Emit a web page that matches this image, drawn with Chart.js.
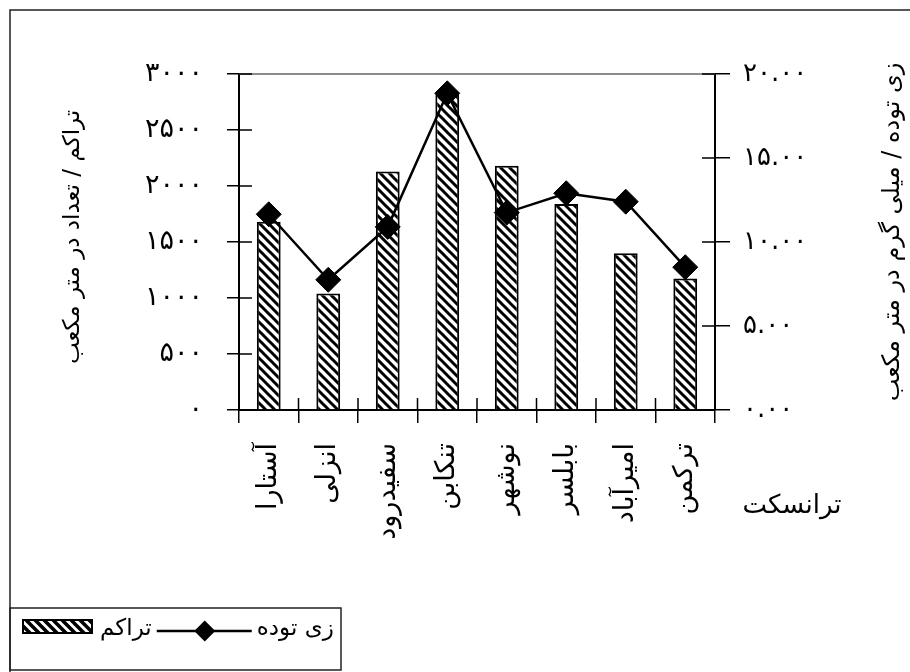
<!DOCTYPE html>
<html lang="fa">
<head>
<meta charset="utf-8">
<script src="https://cdn.jsdelivr.net/npm/chart.js@4.4.1/dist/chart.umd.min.js"></script>
<style>
  html, body { margin: 0; padding: 0; background: #fff; }
  #c { display: block; }
</style>
</head>
<body>
<canvas id="c" width="910" height="672"></canvas>
<script>
// Stations along the coast (transects)
const categories = ['آستارا', 'انزلی', 'سفیدرود', 'تنکابن', 'نوشهر', 'بابلسر', 'امیرآباد', 'ترکمن'];
// Density (individuals per cubic metre) – bars, left axis
const density = [1680, 1040, 2130, 2820, 2180, 1840, 1400, 1175];
// Biomass (mg per cubic metre) – line, right axis
const biomass = [11.65, 7.75, 10.9, 18.85, 11.75, 12.9, 12.4, 8.5];
// Axis ticks
const densityTicks = [0, 500, 1000, 1500, 2000, 2500, 3000];
const biomassTicks = [0, 5, 10, 15, 20];
// Texts
const seriesNames = ['تراکم', 'زی توده'];
const leftTitle = 'تراکم / تعداد در متر مکعب';
const rightTitle = 'زی توده / میلی گرم در متر مکعب';
const xTitle = 'ترانسکت';

const FONT = "'DejaVu Sans', sans-serif";
const FA_DIGITS = '۰۱۲۳۴۵۶۷۸۹';
const toFa = s => String(s).replace(/[0-9]/g, d => FA_DIGITS[+d]);

// Diagonal hatch fill for the bars
function makeHatch(size, width) {
  const c = document.createElement('canvas');
  c.width = size; c.height = size;
  const g = c.getContext('2d');
  g.fillStyle = '#fff';
  g.fillRect(0, 0, size, size);
  g.strokeStyle = '#000';
  g.lineWidth = width;
  g.lineCap = 'square';
  for (let k = -1; k <= 1; k++) {
    g.beginPath();
    g.moveTo(0, k * size);
    g.lineTo(size, size + k * size);
    g.stroke();
  }
  return g.createPattern(c, 'repeat');
}
const ctx0 = document.getElementById('c').getContext('2d');
const hatch = makeHatch(9, 3);

// Frame, plot top border, cross ticks inside the plot, titles and legend
const decor = {
  id: 'decor',
  beforeDatasetsDraw(chart) {
    const { ctx, chartArea: a, scales } = chart;
    ctx.save();
    // grey top edge of plot
    ctx.strokeStyle = '#8c8c8c';
    ctx.lineWidth = 2;
    ctx.beginPath();
    ctx.moveTo(a.left, a.top);
    ctx.lineTo(a.right, a.top);
    ctx.stroke();
    // inner halves of the tick marks
    ctx.strokeStyle = '#000';
    ctx.lineWidth = 1.5;
    ctx.beginPath();
    scales.y.ticks.forEach((t, i) => {
      const p = scales.y.getPixelForTick(i);
      ctx.moveTo(a.left, p); ctx.lineTo(a.left + 13, p);
    });
    scales.y1.ticks.forEach((t, i) => {
      const p = scales.y1.getPixelForTick(i);
      ctx.moveTo(a.right, p); ctx.lineTo(a.right - 13, p);
    });
    const n = scales.x.ticks.length;
    for (let i = 0; i <= n; i++) {
      const p = scales.x.getPixelForValue(i - 0.5);
      ctx.moveTo(p, a.bottom); ctx.lineTo(p, a.bottom - 12);
    }
    ctx.stroke();
    ctx.restore();
  },
  afterDraw(chart) {
    const { ctx } = chart;
    ctx.save();
    // outer frame (top and left edges)
    ctx.strokeStyle = '#222';
    ctx.lineWidth = 1.5;
    ctx.beginPath();
    ctx.moveTo(10, 672); ctx.lineTo(10, 10); ctx.lineTo(910, 10);
    ctx.stroke();

    ctx.fillStyle = '#000';
    ctx.textAlign = 'center';
    ctx.textBaseline = 'middle';
    // left axis title
    ctx.font = '23px ' + FONT;
    ctx.save();
    ctx.translate(73, 237);
    ctx.rotate(-Math.PI / 2);
    ctx.fillText(leftTitle, 0, 0);
    ctx.restore();
    // right axis title
    ctx.font = '24px ' + FONT;
    ctx.save();
    ctx.translate(893, 232);
    ctx.rotate(-Math.PI / 2);
    ctx.fillText(rightTitle, 0, 0);
    ctx.restore();
    // category axis title
    ctx.font = '26px ' + FONT;
    ctx.fillText(xTitle, 792, 506);

    // legend box
    ctx.strokeStyle = '#222';
    ctx.lineWidth = 1.5;
    ctx.strokeRect(10, 608, 331, 62);
    const cy = 629;
    // bar swatch
    ctx.fillStyle = makeHatch(9, 3.5);
    ctx.fillRect(23, 620, 69, 13);
    ctx.strokeStyle = '#000';
    ctx.lineWidth = 2;
    ctx.strokeRect(23, 620, 69, 13);
    ctx.fillStyle = '#000';
    ctx.font = '23px ' + FONT;
    ctx.textAlign = 'left';
    let x = 100;
    ctx.fillText(seriesNames[0], x, cy);
    x += ctx.measureText(seriesNames[0]).width + 5;
    // line swatch with diamond
    ctx.lineWidth = 2.5;
    ctx.beginPath();
    ctx.moveTo(x, cy + 2); ctx.lineTo(x + 95, cy + 2);
    ctx.stroke();
    const dx = x + 48, dy = cy + 2, r = 10.5;
    ctx.beginPath();
    ctx.moveTo(dx - r, dy); ctx.lineTo(dx, dy - r); ctx.lineTo(dx + r, dy); ctx.lineTo(dx, dy + r);
    ctx.closePath();
    ctx.fill();
    x += 100;
    ctx.fillText(seriesNames[1], x, cy);
    ctx.restore();
  }
};

new Chart(ctx0, {
  data: {
    labels: categories,
    datasets: [
      {
        type: 'line',
        label: seriesNames[1],
        data: biomass,
        yAxisID: 'y1',
        order: 0,
        borderColor: '#000',
        borderWidth: 2.5,
        tension: 0,
        pointStyle: 'rectRot',
        pointRadius: 12.5,
        pointBackgroundColor: '#000',
        pointBorderColor: '#000',
        pointBorderWidth: 1
      },
      {
        type: 'bar',
        label: seriesNames[0],
        data: density,
        yAxisID: 'y',
        order: 1,
        backgroundColor: hatch,
        borderColor: '#000',
        borderWidth: 2,
        barPercentage: 0.4,
        categoryPercentage: 1.0
      }
    ]
  },
  options: {
    responsive: false,
    animation: false,
    devicePixelRatio: 1,
    layout: { padding: { top: 74, left: 0, right: 0, bottom: 0 } },
    plugins: { legend: { display: false }, tooltip: { enabled: false } },
    scales: {
      x: {
        type: 'category',
        position: 'bottom',
        offset: true,
        grid: { drawOnChartArea: false, offset: true, tickLength: 13, tickColor: '#000', lineWidth: 1.5, tickWidth: 1.5 },
        border: { color: '#000', width: 2 },
        ticks: {
          autoSkip: false, maxRotation: 90, minRotation: 90, padding: 20,
          color: '#000', font: { family: FONT, size: 27 }
        },
        afterFit: s => { s.height = 262; }
      },
      y: {
        position: 'left',
        min: 0, max: 3000,
        afterBuildTicks: s => { s.ticks = densityTicks.map(v => ({ value: v })); },
        grid: { drawOnChartArea: false, tickLength: 12, tickColor: '#000', lineWidth: 1.5, tickWidth: 1.5 },
        border: { color: '#000', width: 2 },
        ticks: {
          padding: 24, color: '#000', font: { family: FONT, size: 27 },
          callback: v => toFa(v)
        },
        afterFit: s => { s.width = 239; }
      },
      y1: {
        position: 'right',
        min: 0, max: 20,
        afterBuildTicks: s => { s.ticks = biomassTicks.map(v => ({ value: v })); },
        grid: { drawOnChartArea: false, tickLength: 15, tickColor: '#000', lineWidth: 1.5, tickWidth: 1.5 },
        border: { color: '#000', width: 2 },
        ticks: {
          padding: 13, color: '#000', font: { family: FONT, size: 26 },
          callback: v => toFa(Number(v).toFixed(2))
        },
        afterFit: s => { s.width = 195; }
      }
    }
  },
  plugins: [decor]
});
</script>
</body>
</html>
